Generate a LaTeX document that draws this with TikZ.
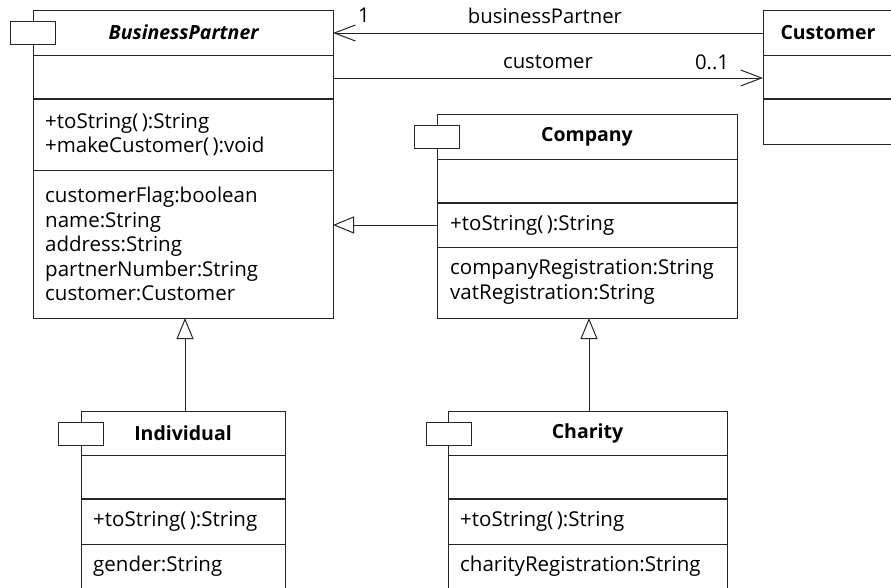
\documentclass[tikz,border=0pt]{standalone}
\usepackage{fontspec}
\setmainfont{Open Sans}
\usetikzlibrary{arrows.meta}
\definecolor{lc}{gray}{0.15}
\begin{document}
\begin{tikzpicture}[x=1pt,y=-1pt,
  cls/.style={draw=lc, line width=1pt, fill=white, inner sep=0pt, outer sep=0pt, anchor=north west},
  tabbox/.style={draw=lc, line width=1pt, fill=white, inner sep=0pt, outer sep=0pt, anchor=north west, minimum width=45pt, minimum height=23pt},
  divider/.style={draw=lc, line width=1pt},
  thickdiv/.style={draw=lc, line width=1.7pt},
  title/.style={font=\fontsize{19.5}{23}\selectfont\bfseries, inner sep=0pt},
  members/.style={font=\fontsize{20.5}{24.5}\selectfont, align=left, anchor=west, inner sep=0pt},
  lbl/.style={font=\fontsize{20.3}{23}\selectfont, inner sep=0pt},
  assoc/.style={draw=lc, line width=1pt, -{Straight Barb[length=21pt,width=16pt,line width=1pt]}},
  gen/.style={draw=lc, line width=1pt, -{Triangle[open,length=21pt,width=17pt,fill=white,line width=1pt]}}
]
\useasboundingbox (0,0) rectangle (891,587);
\clip (0,0) rectangle (891,587);

% BusinessPartner
\node[cls, minimum width=300pt, minimum height=308pt] (bp) at (33,10) {};
\node[tabbox] (bptab) at (10,21) {};
\draw[divider] (bp.west |- 0,55) -- (bp.east |- 0,55);
\draw[thickdiv] (bp.west |- 0,99) -- (bp.east |- 0,99);
\draw[divider] (bp.west |- 0,170) -- (bp.east |- 0,170);
\node[title] (bpt) at (184,32.5) {\textit{BusinessPartner}};
\node[members] (bpops) at (45,134.5) {+toString(\,):String\\+makeCustomer(\,):void};
\node[members] (bpatt) at (45,244) {customerFlag:boolean\\name:String\\address:String\\partnerNumber:String\\customer:Customer};

% Customer
\node[cls, minimum width=130pt, minimum height=134pt] (cust) at (763,10) {};
\draw[divider] (cust.west |- 0,55) -- (cust.east |- 0,55);
\draw[thickdiv] (cust.west |- 0,99) -- (cust.east |- 0,99);
\node[title] (custt) at (828,32.5) {Customer};

% Company
\node[cls, minimum width=300pt, minimum height=204pt] (comp) at (437,114) {};
\node[tabbox] (comptab) at (414,125) {};
\draw[divider] (comp.west |- 0,159) -- (comp.east |- 0,159);
\draw[thickdiv] (comp.west |- 0,203) -- (comp.east |- 0,203);
\draw[divider] (comp.west |- 0,247) -- (comp.east |- 0,247);
\node[title] (compt) at (587,136.5) {Company};
\node[members] (compops) at (450,225) {+toString(\,):String};
\node[members] (compatt) at (450,282) {companyRegistration:String\\vatRegistration:String};

% Individual
\node[cls, minimum width=204pt, minimum height=177pt] (ind) at (81,411) {};
\node[tabbox] (indtab) at (58,422) {};
\draw[divider] (ind.west |- 0,455) -- (ind.east |- 0,455);
\draw[thickdiv] (ind.west |- 0,499) -- (ind.east |- 0,499);
\draw[divider] (ind.west |- 0,544) -- (ind.east |- 0,544);
\node[title] (indt) at (183,433) {Individual};
\node[members] (indops) at (93,521.5) {+toString(\,):String};
\node[members] (indatt) at (93,566) {gender:String};

% Charity
\node[cls, minimum width=279pt, minimum height=177pt] (char) at (448,411) {};
\node[tabbox] (chartab) at (426,422) {};
\draw[divider] (char.west |- 0,455) -- (char.east |- 0,455);
\draw[thickdiv] (char.west |- 0,499) -- (char.east |- 0,499);
\draw[divider] (char.west |- 0,544) -- (char.east |- 0,544);
\node[title] (chart) at (587.5,433) {Charity};
\node[members] (charops) at (460,521.5) {+toString(\,):String};
\node[members] (charatt) at (460,566) {charityRegistration:String};

% Associations
\draw[assoc] (cust.west |- 0,33) -- (bp.east |- 0,33);
\draw[assoc] (bp.east |- 0,78) -- (cust.west |- 0,78);
\node[lbl] (l1) at (364,15) {1};
\node[lbl] (lbp) at (545,16) {businessPartner};
\node[lbl] (lcu) at (548,62) {customer};
\node[lbl] (l01) at (712,62) {0..1};

% Generalizations
\draw[gen] (comp.west |- 0,225) -- (bp.east |- 0,225);
\draw[gen] (ind.north -| 185,0) -- (bp.south -| 185,0);
\draw[gen] (char.north -| 589,0) -- (comp.south -| 589,0);
\end{tikzpicture}
\end{document}
